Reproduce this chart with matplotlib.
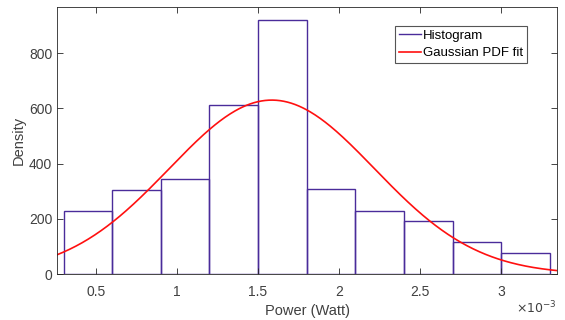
import numpy as np
import matplotlib.pyplot as plt
from matplotlib.ticker import FuncFormatter
from matplotlib.lines import Line2D

plt.rcParams['font.family'] = ['Liberation Sans', 'DejaVu Sans']

# histogram (density-normalised), power in Watt
bin_edges = [0.3e-3, 0.6e-3, 0.9e-3, 1.2e-3, 1.5e-3, 1.8e-3,
             2.1e-3, 2.4e-3, 2.7e-3, 3.0e-3, 3.3e-3]
density = [230, 306, 345, 613, 920, 307, 230, 192, 116, 76]

# gaussian fit parameters
mu = 1.585e-3
sigma = 0.633e-3
x_range = [0.26e-3, 3.345e-3]

xticks = [0.5e-3, 1e-3, 1.5e-3, 2e-3, 2.5e-3, 3e-3]
yticks = [0, 200, 400, 600, 800]

HIST_C = '#4a2c9a'
FIT_C = '#ff1010'
AX_C = '#262626'
TXT_C = '#404040'

fig = plt.figure(figsize=(5.65, 3.2), dpi=100)
ax = fig.add_axes([0.101, 0.143, 0.885, 0.835])

edges = np.array(bin_edges)
ax.bar(edges[:-1], density, width=np.diff(edges), align='edge',
       fill=False, edgecolor=HIST_C, linewidth=1.0)

xs = np.linspace(x_range[0], x_range[1], 400)
pdf = np.exp(-0.5 * ((xs - mu) / sigma) ** 2) / (sigma * np.sqrt(2 * np.pi))
ax.plot(xs, pdf, color=FIT_C, lw=1.2)

ax.set_xlim(x_range)
ax.set_ylim(0, 967)
ax.set_xticks(xticks)
ax.set_yticks(yticks)
ax.xaxis.set_major_formatter(FuncFormatter(lambda v, _: f'{v * 1e3:g}'))
ax.tick_params(direction='in', top=True, right=True, length=4,
               width=0.6, colors=AX_C, labelcolor=TXT_C, labelsize=10)
ax.tick_params(axis='x', pad=8)
for s in ax.spines.values():
    s.set_color(AX_C)
    s.set_linewidth(0.6)

ax.set_xlabel('Power (Watt)', fontsize=10.5, color=TXT_C, labelpad=3)
ax.set_ylabel('Density', fontsize=10.5, color=TXT_C, labelpad=2)
fig.text(0.986, 0.012, r'$\times10^{-3}$', ha='right', va='bottom',
         fontsize=9, color=TXT_C)

handles = [Line2D([], [], color=HIST_C, lw=1.0),
           Line2D([], [], color=FIT_C, lw=1.2)]
leg = ax.legend(handles, ['Histogram', 'Gaussian PDF fit'],
                loc='upper left', bbox_to_anchor=(0.676, 0.93),
                fontsize=9.5, handlelength=1.7, handletextpad=0.1,
                borderpad=0.3, labelspacing=0.4, borderaxespad=0,
                fancybox=False, framealpha=1, edgecolor='#555555')
leg.get_frame().set_linewidth(0.8)
for t in leg.get_texts():
    t.set_color('#000000')

fig.savefig('out.png', dpi=100)
